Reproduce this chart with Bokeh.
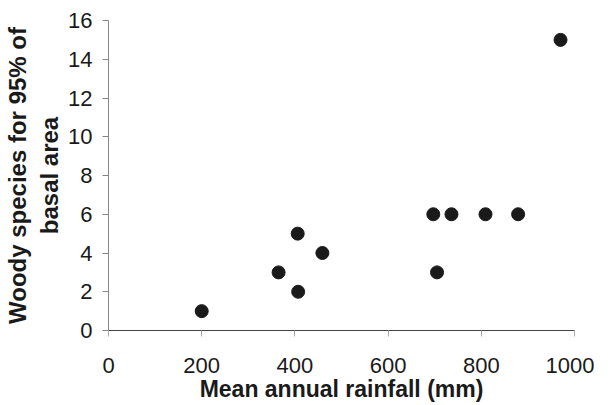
from bokeh.plotting import figure
from bokeh.embed import file_html
from bokeh.resources import INLINE
from bokeh.models import Range1d, FixedTicker

rainfall = [200, 365, 406, 407, 459, 697, 705, 736, 809, 879, 970]
species = [1, 3, 5, 2, 4, 6, 3, 6, 6, 6, 15]
x_ticks = [0, 200, 400, 600, 800, 1000]
y_ticks = [0, 2, 4, 6, 8, 10, 12, 14, 16]

p = figure(frame_width=466, frame_height=310, output_backend="svg",
           toolbar_location=None, x_range=Range1d(0, 1000), y_range=Range1d(0, 16),
           min_border_left=100, min_border_top=20, min_border_right=20,
           min_border_bottom=40)
p.outline_line_color = None
p.xgrid.visible = False
p.ygrid.visible = False
p.background_fill_color = "white"

p.scatter(rainfall, species, size=13, color="#1a1a1a")

font = "Liberation Sans"
p.xaxis.ticker = FixedTicker(ticks=x_ticks)
p.yaxis.ticker = FixedTicker(ticks=y_ticks)
for ax in (p.xaxis[0], p.yaxis[0]):
    ax.major_label_text_font = font
    ax.major_label_text_font_size = "22px"
    ax.major_label_text_color = "#1a1a1a"
    ax.axis_label_text_font = font
    ax.axis_label_text_font_style = "bold"
    ax.axis_label_text_color = "#1a1a1a"
    ax.minor_tick_line_color = None
    ax.major_tick_in = 0
    ax.major_tick_out = 6

p.xaxis.axis_label = "Mean annual rainfall (mm)"
p.yaxis.axis_label = "Woody species for 95% of\nbasal area"
p.xaxis.axis_label_text_font_size = "23px"
p.yaxis.axis_label_text_font_size = "24px"
p.xaxis.axis_line_color = "#444444"
p.xaxis.major_tick_line_color = "#aaaaaa"
p.yaxis.axis_line_color = "#888888"
p.yaxis.major_tick_line_color = "#888888"
p.xaxis.major_label_standoff = 21
p.xaxis.axis_label_standoff = 0
p.yaxis.major_label_standoff = 10
p.yaxis.axis_label_standoff = 2

open("out.html", "w").write(file_html(p, INLINE))
